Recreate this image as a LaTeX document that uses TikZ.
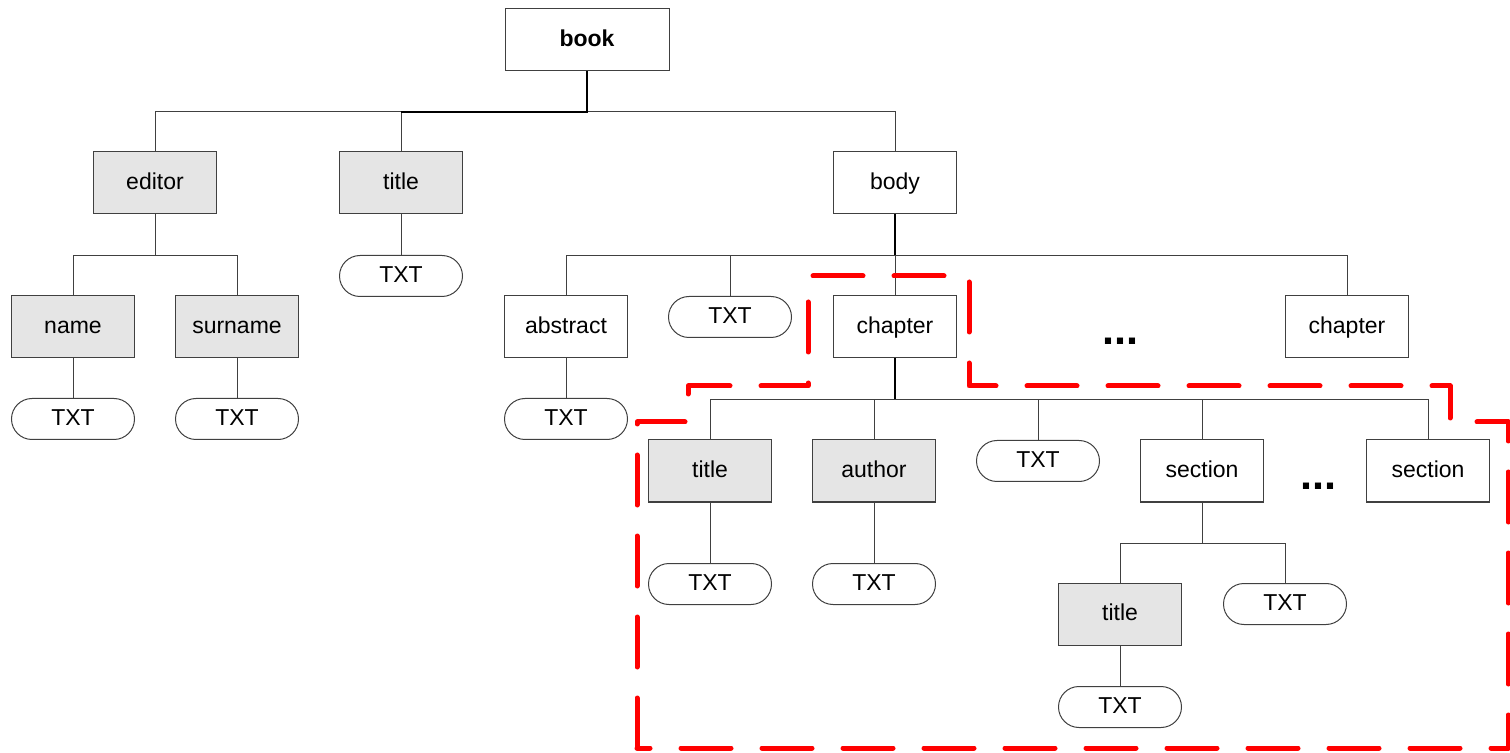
\documentclass[tikz,border=0pt]{standalone}
\usepackage{fontspec}
\setmainfont{Liberation Sans}
\begin{document}
\begin{tikzpicture}[x=0.5pt,y=-0.5pt,
  lbl/.style={font=\fontsize{11.5pt}{13pt}\selectfont,text height=8.6pt,text depth=2.4pt},
  elem/.style={lbl,draw=black!75,line width=0.5pt,fill=white,minimum width=61.5pt,minimum height=31pt,inner sep=0pt},
  grayelem/.style={elem,fill=black!10},
  txt/.style={lbl,draw=black!75,line width=0.5pt,fill=white,rounded corners=10.25pt,minimum width=61.5pt,minimum height=20.5pt,inner sep=0pt},
  conn/.style={draw=black!75,line width=0.5pt},
  thick conn/.style={draw=black,line width=1pt},
  dots/.style={font=\fontsize{21.6pt}{24pt}\selectfont\bfseries,inner sep=0pt,anchor=base},
  region/.style={draw=red,line width=2.5pt,dash pattern=on 25pt off 15.5pt,line cap=round,line join=round}
]
\useasboundingbox (0,0) rectangle (1510,753);
% nodes
\node[elem,minimum width=82pt,font=\fontsize{11.5pt}{13pt}\selectfont\bfseries] (book) at (587,40) {book};
\node[grayelem] (editor) at (155,183) {editor};
\node[grayelem] (title1) at (401,183) {title};
\node[elem] (body) at (895,183) {body};
\node[txt] (t1) at (401,276) {TXT};
\node[grayelem] (name) at (73,327) {name};
\node[grayelem] (surname) at (237,327) {surname};
\node[elem] (abstract) at (566,327) {abstract};
\node[txt] (t2) at (730,317) {TXT};
\node[elem] (chapter1) at (895,327) {chapter};
\node[dots] (d1) at (1120,345) {...};
\node[elem] (chapter2) at (1347,327) {chapter};
\node[txt] (t3) at (73,419) {TXT};
\node[txt] (t4) at (237,419) {TXT};
\node[txt] (t5) at (566,419) {TXT};
\node[grayelem] (title2) at (710,471) {title};
\node[grayelem] (author) at (874,471) {author};
\node[txt] (t6) at (1038,461) {TXT};
\node[elem] (section1) at (1202,471) {section};
\node[dots] (d2) at (1318,489) {...};
\node[elem] (section2) at (1428,471) {section};
\node[txt] (t7) at (710,584) {TXT};
\node[txt] (t8) at (874,584) {TXT};
\node[grayelem] (title3) at (1120,614) {title};
\node[txt] (t9) at (1285,604) {TXT};
\node[txt] (t10) at (1120,707) {TXT};
% connectors
\coordinate (b1) at (587,112);
\draw[conn] (b1) -| (body.north);
\draw[conn] (title1.north) -- (title1.north |- b1) -| (editor.north);
\draw[thick conn] (book.south) -- (b1) -- (title1.north |- b1);
\coordinate (b2) at (155,256);
\draw[conn] (editor.south) -- (b2) -| (name.north);
\draw[conn] (b2) -| (surname.north);
\draw[conn] (title1.south) -- (t1.north);
\coordinate (b3) at (895,256);
\draw[thick conn] (body.south) -- (b3);
\draw[conn] (b3) -| (abstract.north);
\draw[conn] (b3) -| (chapter2.north);
\draw[conn] (t2.north) -- (t2.north |- b3);
\draw[conn] (b3) -- (chapter1.north);
\draw[conn] (name.south) -- (t3.north);
\draw[conn] (surname.south) -- (t4.north);
\draw[conn] (abstract.south) -- (t5.north);
\coordinate (b4) at (895,400);
\draw[thick conn] (chapter1.south) -- (b4);
\draw[conn] (b4) -| (title2.north);
\draw[conn] (author.north) -- (author.north |- b4);
\draw[conn] (t6.north) -- (t6.north |- b4);
\draw[conn] (section1.north) -- (section1.north |- b4);
\draw[conn] (b4) -| (section2.north);
\draw[conn] (title2.south) -- (t7.north);
\draw[conn] (author.south) -- (t8.north);
\coordinate (b5) at (1202,543);
\draw[conn] (section1.south) -- (b5) -| (title3.north);
\draw[conn] (b5) -| (t9.north);
\draw[conn] (title3.south) -- (t10.north);
% highlighted region
\draw[region] (637,748) -- (637,422) -- (688,422) -- (688,386) -- (808,386) -- (808,276) -- (969,276) -- (969,386) -- (1450,386) -- (1450,422) -- (1508,422) -- (1508,748) -- cycle;
\end{tikzpicture}
\end{document}
